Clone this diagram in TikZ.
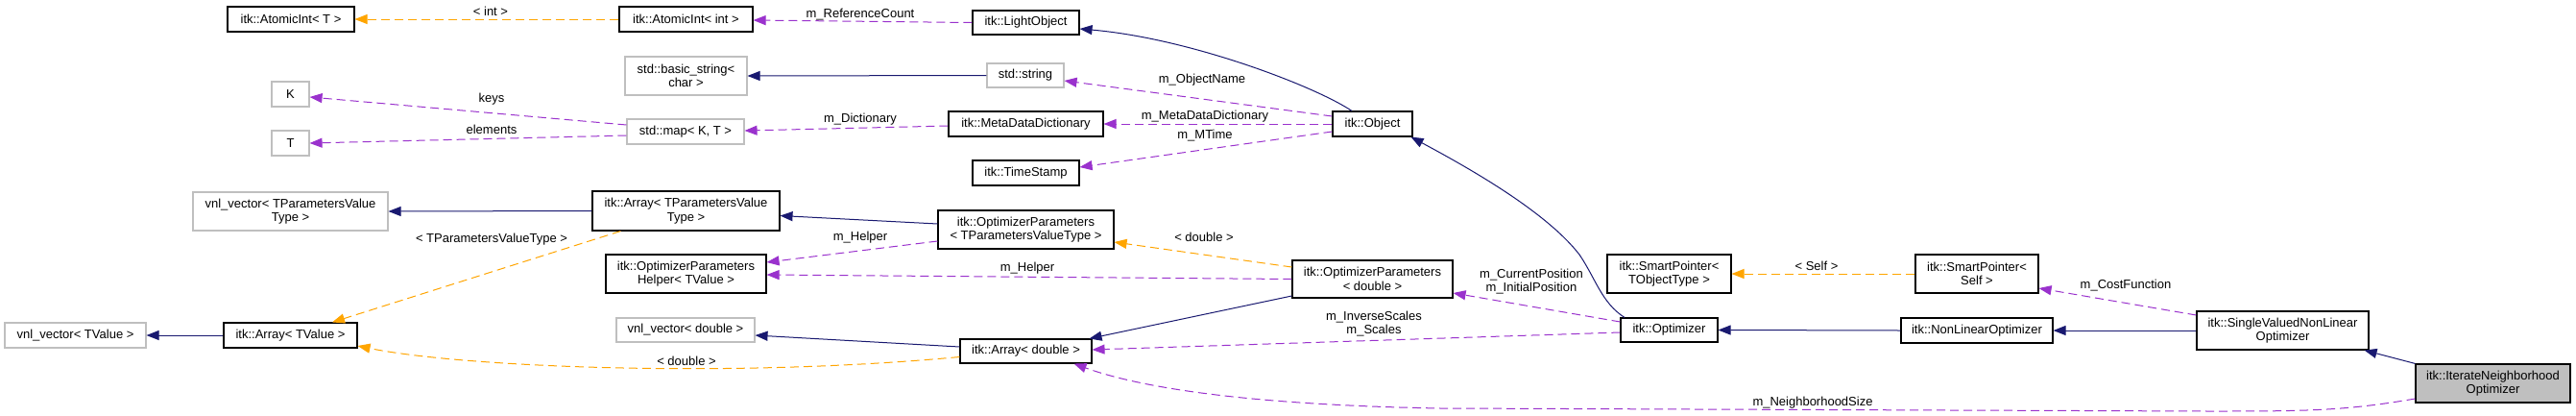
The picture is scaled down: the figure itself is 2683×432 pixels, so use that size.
\documentclass[tikz,border=0pt]{standalone}
\usepackage{fontspec}
\setmainfont{Liberation Sans}
\usetikzlibrary{arrows.meta}
\definecolor{navy}{HTML}{191970}
\definecolor{orch}{HTML}{9A32CD}
\definecolor{orng}{HTML}{FFA500}
\definecolor{gry}{HTML}{BFBFBF}
\begin{document}
\begin{tikzpicture}[x=1pt,y=-1pt,
  cls/.style={draw=black, line width=1.1pt, fill=white, inner sep=0pt, align=center, font=\fontsize{13}{14.5}\selectfont},
  ext/.style={cls, draw=gry},
  lbl/.style={inner sep=0pt, align=center, font=\fontsize{13}{14.5}\selectfont},
  inh/.style={draw=navy, line width=1pt, -{Triangle[length=13pt,width=10pt]}},
  use/.style={draw=orch, line width=1pt, dash pattern=on 9pt off 5pt, -{Triangle[length=13pt,width=10pt]}},
  tpl/.style={draw=orng, line width=1pt, dash pattern=on 9pt off 5pt, -{Triangle[length=13pt,width=10pt]}}]
\useasboundingbox[fill=white] (0,0) rectangle (2683,432);

% nodes
\node[cls, minimum width=132pt, minimum height=26pt] (atomT) at (303,20) {itk::AtomicInt< T >};
\node[cls, minimum width=139pt, minimum height=26pt] (atomInt) at (714.5,20) {itk::AtomicInt< int >};
\node[cls, minimum width=111pt, minimum height=25pt] (light) at (1068.5,23.5) {itk::LightObject};
\node[ext, minimum width=127pt, minimum height=40pt] (bstr) at (714.5,79) {std::basic\_string<\\char >};
\node[ext, minimum width=80pt, minimum height=25pt] (str) at (1068,78.5) {std::string};
\node[ext, minimum width=122pt, minimum height=26pt] (map) at (714,137) {std::map< K, T >};
\node[ext, minimum width=39pt, minimum height=26pt] (K) at (302.5,98) {K};
\node[ext, minimum width=39pt, minimum height=26pt] (T) at (302.5,149) {T};
\node[cls, minimum width=161pt, minimum height=26pt] (mdd) at (1068.5,129) {itk::MetaDataDictionary};
\node[cls, minimum width=111pt, minimum height=26pt] (ts) at (1068.5,180) {itk::TimeStamp};
\node[cls, minimum width=83pt, minimum height=26pt] (obj) at (1429.5,129) {itk::Object};
\node[ext, minimum width=203pt, minimum height=40pt] (vnlTP) at (302.5,220) {vnl\_vector< TParametersValue\\Type >};
\node[cls, minimum width=195pt, minimum height=41pt] (arrTP) at (714.5,219.5) {itk::Array< TParametersValue\\Type >};
\node[cls, minimum width=167pt, minimum height=40pt] (helper) at (714.5,285) {itk::OptimizerParameters\\Helper< TValue >};
\node[ext, minimum width=147pt, minimum height=26pt] (vnlTV) at (78.5,349) {vnl\_vector< TValue >};
\node[cls, minimum width=139pt, minimum height=26pt] (arrTV) at (302.5,349) {itk::Array< TValue >};
\node[cls, minimum width=183pt, minimum height=40pt] (opTP) at (1068.5,239) {itk::OptimizerParameters\\< TParametersValueType >};
\node[ext, minimum width=144pt, minimum height=25pt] (vnlD) at (714,343.5) {vnl\_vector< double >};
\node[cls, minimum width=137pt, minimum height=25pt] (arrD) at (1068.5,365.5) {itk::Array< double >};
\node[cls, minimum width=167pt, minimum height=39pt] (opD) at (1429.5,290.5) {itk::OptimizerParameters\\< double >};
\node[cls, minimum width=101pt, minimum height=25pt] (opt) at (1738.5,343.5) {itk::Optimizer};
\node[cls, minimum width=129pt, minimum height=40pt] (spT) at (1738.5,285) {itk::SmartPointer<\\TObjectType >};
\node[cls, minimum width=128pt, minimum height=40pt] (spS) at (2059,285) {itk::SmartPointer<\\Self >};
\node[cls, minimum width=158pt, minimum height=26pt] (nlo) at (2059,344) {itk::NonLinearOptimizer};
\node[cls, minimum width=179pt, minimum height=40pt] (svnlo) at (2377.5,344) {itk::SingleValuedNonLinear\\Optimizer};
\node[cls, fill=gry, minimum width=161pt, minimum height=40pt] (ino) at (2596.5,399) {itk::IterateNeighborhood\\Optimizer};

% edges
\draw[tpl] (atomInt.west) -- (atomT.east);
\draw[use] (light.west) -- ([yshift=-1pt]atomInt.east);
\draw[inh] ([xshift=-21.5pt]obj.north) .. controls (1370,90) and (1240,40) .. ([yshift=-6.5pt]light.east);
\draw[inh] (str.west) -- (bstr.east);
\draw[use] ([yshift=8pt]obj.west) -- ([yshift=-5.5pt]str.east);
\draw[use] (obj.west) -- (mdd.east);
\draw[use] ([yshift=-8pt]obj.west) -- ([yshift=6pt]ts.east);
\draw[use] ([yshift=-2pt]mdd.west) -- ([yshift=1pt]map.east);
\draw[use] ([yshift=7pt]map.west) -- ([yshift=-3pt]K.east);
\draw[use] ([yshift=-4pt]map.west) -- (T.east);
\draw[inh] (arrTP.west) -- (vnlTP.east);
\draw[tpl] ([xshift=30pt]arrTP.south west) -- ([xshift=43.5pt]arrTV.north);
\draw[inh] (arrTV.west) -- (vnlTV.east);
\draw[tpl] ([yshift=-6pt]arrD.west) .. controls (760,394) and (480,382) .. ([yshift=-11pt]arrTV.east);
\draw[inh] ([yshift=6pt]opTP.west) -- ([yshift=-5pt]arrTP.east);
\draw[use] ([yshift=-12pt]opTP.west) -- ([yshift=12pt]helper.east);
\draw[tpl] ([yshift=12.5pt]opD.west) -- ([yshift=-13pt]opTP.east);
\draw[use] (opD.west) -- ([yshift=-1pt]helper.east);
\draw[inh] ([yshift=-17.5pt]opD.west) -- ([xshift=-3pt]arrD.north east);
\draw[inh] ([yshift=4.5pt]arrD.west) -- ([yshift=-5.5pt]vnlD.east);
\draw[use] ([yshift=8.5pt]opt.west) -- ([yshift=-14.5pt]opD.east);
\draw[use] ([yshift=-2.5pt]opt.west) -- ([yshift=1.5pt]arrD.east);
\draw[inh] ([xshift=-46.5pt]opt.north) .. controls (1668,315) and (1662,290) .. (1645,265) .. controls (1610,220) and (1530,175) .. ([xshift=-2pt]obj.south east);
\draw[inh] (nlo.west) -- (opt.east);
\draw[tpl] (spS.west) -- (spT.east);
\draw[use] ([yshift=16pt]svnlo.west) -- ([yshift=-15pt]spS.east);
\draw[inh] (svnlo.west) -- (nlo.east);
\draw[inh] (ino.north west) -- ([xshift=-5pt]svnlo.south east);
\draw[use] ([yshift=-16pt]ino.west) .. controls (2440,428) and (2400,428) .. (2300,428) -- (1500,425) .. controls (1330,422) and (1200,408) .. ([xshift=50pt]arrD.south);

% labels
\node[lbl] (l1) at (511,12) {< int >};
\node[lbl] (l2) at (896,15) {m\_ReferenceCount};
\node[lbl] (l3) at (1252,83) {m\_ObjectName};
\node[lbl] (l4) at (1255,121) {m\_MetaDataDictionary};
\node[lbl] (l5) at (1255,141) {m\_MTime};
\node[lbl] (l6) at (896,124) {m\_Dictionary};
\node[lbl] (l7) at (512,103) {keys};
\node[lbl] (l8) at (512,135) {elements};
\node[lbl] (l9) at (512,249) {< TParametersValueType >};
\node[lbl] (l10) at (715,376) {< double >};
\node[lbl] (l11) at (896,247) {m\_Helper};
\node[lbl] (l12) at (1254,247) {< double >};
\node[lbl] (l13) at (1070,279) {m\_Helper};
\node[lbl] (l14) at (1595,293) {m\_CurrentPosition\\m\_InitialPosition};
\node[lbl] (l15) at (1431,337) {m\_InverseScales\\m\_Scales};
\node[lbl] (l16) at (1892,277) {< Self >};
\node[lbl] (l17) at (2214,297) {m\_CostFunction};
\node[lbl] (l18) at (1888,419) {m\_NeighborhoodSize};
\end{tikzpicture}
\end{document}
